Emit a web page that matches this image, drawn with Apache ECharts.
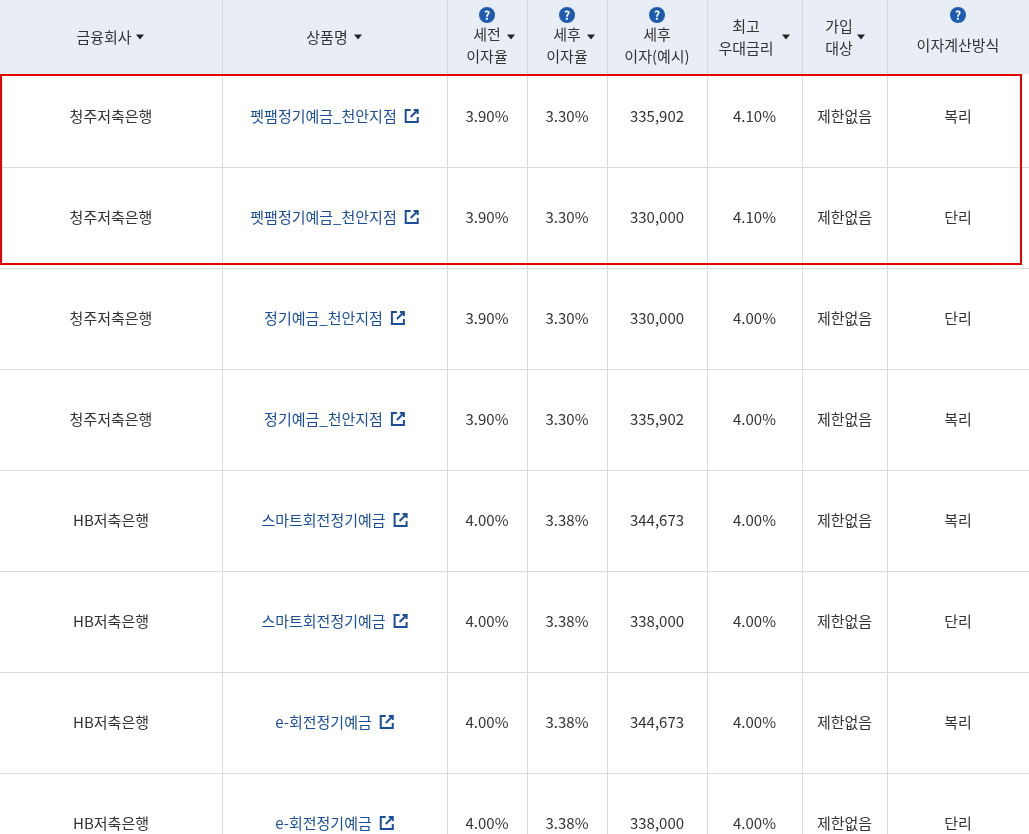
<!DOCTYPE html>
<html><head><meta charset="utf-8">
<script src="https://cdn.jsdelivr.net/npm/echarts@6/dist/echarts.min.js"></script>
<style>html,body{margin:0;padding:0;background:#fff}#c{width:1029px;height:834px}</style>
</head><body><div id="c"></div>
<script>
const companies=['청주저축은행','청주저축은행','청주저축은행','청주저축은행','HB저축은행','HB저축은행','HB저축은행','HB저축은행'];
const products=['펫팸정기예금_천안지점','펫팸정기예금_천안지점','정기예금_천안지점','정기예금_천안지점','스마트회전정기예금','스마트회전정기예금','e-회전정기예금','e-회전정기예금'];
const preTax=['3.90%','3.90%','3.90%','3.90%','4.00%','4.00%','4.00%','4.00%'];
const postTax=['3.30%','3.30%','3.30%','3.30%','3.38%','3.38%','3.38%','3.38%'];
const interest=['335,902','330,000','330,000','335,902','344,673','338,000','344,673','338,000'];
const bestRate=['4.10%','4.10%','4.00%','4.00%','4.00%','4.00%','4.00%','4.00%'];
const target=['제한없음','제한없음','제한없음','제한없음','제한없음','제한없음','제한없음','제한없음'];
const method=['복리','단리','단리','복리','복리','단리','복리','단리'];
const headers=[['금융회사'],['상품명'],['세전','이자율'],['세후','이자율'],['세후','이자(예시)'],['최고','우대금리'],['가입','대상'],['이자계산방식']];
const headerHelp=[false,false,true,true,true,false,false,true];
const headerSort=[true,true,true,true,false,true,true,false];

// layout
const colX=[0,222,447,527,607,707,802,887,1029];
const headH=74, rowTop0=66, rowH=101;
const FONT='"Noto Sans CJK KR","Noto Sans",sans-serif';
const rows=companies.map((c,i)=>[c,products[i],preTax[i],postTax[i],interest[i],bestRate[i],target[i],method[i]]);
const mctx=document.createElement('canvas').getContext('2d');
function tw(s){mctx.font=`15px ${FONT}`;return mctx.measureText(s).width;}

function txt(x,y,s,color,size,align){return {type:'text',style:{x,y,text:s,fill:color,font:`${size||15}px ${FONT}`,align:align||'center',verticalAlign:'middle'}};}
function tri(x,y){return {type:'polygon',shape:{points:[[x-4,y-2.5],[x+4,y-2.5],[x,y+2.5]]},style:{fill:'#222'}};}

function renderItem(params,api){
  const r=api.value(0);
  const P=(x,y)=>api.coord([x,y]);
  const ch=[];
  if(r<0){
    const a=P(0,0),b=P(1029,headH);
    ch.push({type:'rect',shape:{x:a[0],y:a[1],width:b[0]-a[0],height:b[1]-a[1]},style:{fill:'#e9eef6'}});
    for(let c=1;c<8;c++){const p=P(colX[c],0),q=P(colX[c],headH);ch.push({type:'line',shape:{x1:p[0]+.5,y1:p[1],x2:q[0]+.5,y2:q[1]},style:{stroke:'#d5d9e0',lineWidth:1}});}
    headers.forEach((h,c)=>{
      let cx=(colX[c]+colX[c+1])/2;
      let ys;
      if(h.length===1) ys=headerHelp[c]?[45]:[37];
      else ys=headerHelp[c]?[34,56]:[26,48];
      if(c===0) cx=104; if(c===1) cx=327; if(c===5) cx=746; if(c===6) cx=839;
      h.forEach((s,k)=>{const p=P(cx,ys[k]);ch.push(txt(p[0],p[1],s,'#333',15));});
      if(headerHelp[c]){const p=P((colX[c]+colX[c+1])/2,15);ch.push({type:'circle',shape:{cx:p[0],cy:p[1],r:8},style:{fill:'#1c5bb0'}});ch.push({type:'text',style:{x:p[0],y:p[1]+.5,text:'?',fill:'#fff',font:`bold 12px ${FONT}`,align:'center',verticalAlign:'middle'}});}
      if(headerSort[c]){
        const txs=[140,358,511,591,0,786,861];
        const ty=h.length===1?37:37;
        const p=P(txs[c],ty);ch.push(tri(p[0],p[1]));
      }
    });
  } else {
    const row=rows[r];
    const top=r===0?headH:rowTop0+rowH*r, bot=rowTop0+rowH*(r+1);
    const cy=116+rowH*r;
    const a=P(0,bot);
    ch.push({type:'line',shape:{x1:0,y1:Math.round(a[1])+.5,x2:1029,y2:Math.round(a[1])+.5},style:{stroke:'#dcdcdc',lineWidth:1}});
    for(let c=1;c<8;c++){const p=P(colX[c],top),q=P(colX[c],bot);ch.push({type:'line',shape:{x1:p[0]+.5,y1:p[1],x2:q[0]+.5,y2:q[1]},style:{stroke:'#dcdcdc',lineWidth:1}});}
    row.forEach((s,c)=>{
      let cx=(colX[c]+colX[c+1])/2;
      if(c===1){
        const w=tw(s), total=w+8+14;
        const p=P(cx-total/2,cy);
        ch.push(txt(p[0],p[1],s,'#1b4f9b',15,'left'));
        const ix=p[0]+w+8, iy=p[1]-7;
        ch.push({type:'polyline',shape:{points:[[ix+6,iy+1],[ix+1,iy+1],[ix+1,iy+13],[ix+13,iy+13],[ix+13,iy+8]]},style:{stroke:'#1b4f9b',lineWidth:2,fill:null}});
        ch.push({type:'polyline',shape:{points:[[ix+9,iy+1],[ix+13,iy+1],[ix+13,iy+5]]},style:{stroke:'#1b4f9b',lineWidth:2,fill:null}});
        ch.push({type:'line',shape:{x1:ix+13,y1:iy+1,x2:ix+6,y2:iy+8},style:{stroke:'#1b4f9b',lineWidth:2}});
      } else {
        const p=P(cx,cy);ch.push(txt(p[0],p[1],s,'#333',15));
      }
    });
  }
  return {type:'group',children:ch};
}

const chart=echarts.init(document.getElementById('c'));
chart.setOption({
  animation:false,
  grid:{left:0,right:0,top:0,bottom:0},
  xAxis:{type:'value',min:0,max:1029,show:false},
  yAxis:{type:'value',min:0,max:834,inverse:true,show:false},
  series:[{type:'custom',renderItem,data:[[-1],...rows.map((_,i)=>[i])],clip:false}],
  graphic:[{type:'rect',shape:{x:1,y:75,width:1020,height:189},style:{fill:null,stroke:'#e60000',lineWidth:2},z:100}]
});
</script></body></html>
